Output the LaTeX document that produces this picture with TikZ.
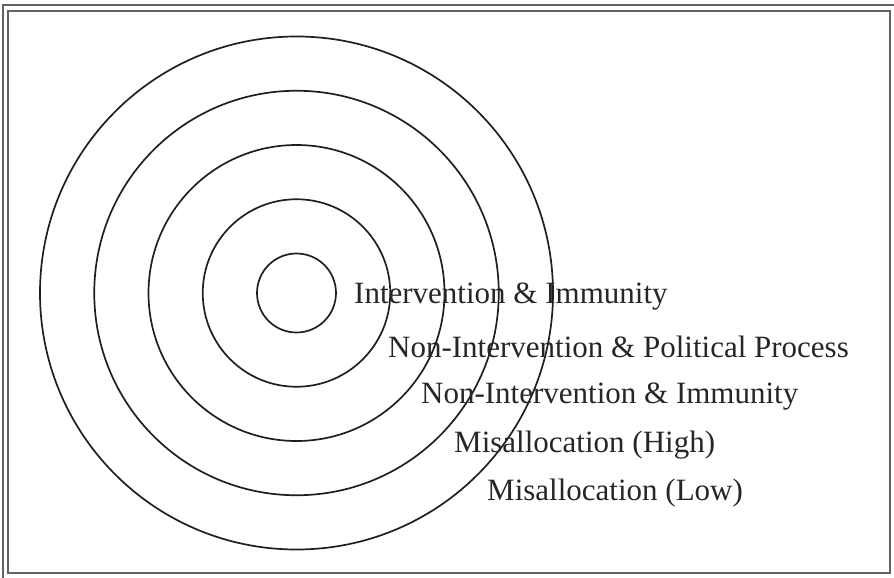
\documentclass[tikz,border=0pt]{standalone}
\usepackage{fontspec}
\setmainfont{Liberation Serif}
\usetikzlibrary{positioning}
\tikzset{ring/.style={line width=1.7pt, black!88},
  frame/.style={line width=1.5pt, black!62},
  lbl/.style={anchor=base west, inner sep=0pt, text=black!85, font=\fontsize{31}{36}\selectfont}}

\begin{document}
\begin{tikzpicture}[x=1pt, y=-1pt]
    \useasboundingbox (0,0) rectangle (894,578);
    \draw[frame](3,578)--(3,5)--(894,5);
    \draw[frame](8,11) rectangle (890,573);
    \coordinate (c) at (296.5,293);
    \foreach \r in {39.5,93.75,148,202.25,256.5}
    {
        \draw[ring](c) circle (\r pt);
    }
    \foreach \i/\x/\y/\t in {1/354/303/{Intervention \& Immunity},2/388/357/{Non-Intervention \& Political Process},3/421/403/{Non-Intervention \& Immunity},4/454/452/{Misallocation (High)},5/487/500/{Misallocation (Low)}}
    {
        \node[lbl](lab\i) at (\x,\y){\t};
    }
\end{tikzpicture}
\end{document}
